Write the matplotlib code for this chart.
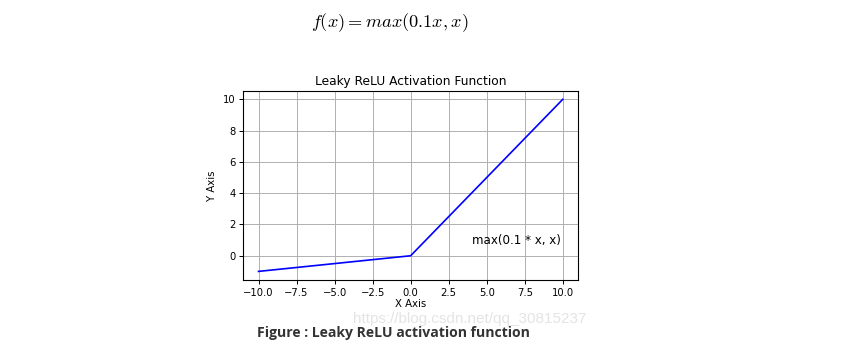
import matplotlib
matplotlib.use('Agg')
import matplotlib.pyplot as plt

# key points of the curve
x_vals = [-10.0, 0.0, 10.0]
y_vals = [-1.0, 0.0, 10.0]

title = 'Leaky ReLU Activation Function'
formula = r'$f(x) = max(0.1x, x)$'
note = 'max(0.1 * x, x)'
caption = 'Figure : Leaky ReLU activation function'
watermark = 'https://blog.csdn.net/qq_30815237'

fig = plt.figure(figsize=(8.42, 3.51), dpi=100)
fig.patch.set_facecolor('white')

ax = fig.add_axes([243.3 / 842, 1 - 280 / 351, (578 - 243.3) / 842, (280 - 90.7) / 351])
ax.plot(x_vals, y_vals, color='blue', lw=1.2)
ax.grid(True, color='#b0b0b0', lw=0.7)
ax.set_title(title, fontsize=8.8, pad=4)
ax.set_xlabel('X Axis', fontsize=7.3, labelpad=1)
ax.set_ylabel('Y Axis', fontsize=7.3, labelpad=4)
ax.tick_params(labelsize=7.2, length=3, width=0.7, pad=2.5)
for s in ax.spines.values():
    s.set_linewidth(0.8)
ax.text(4.0, 0.78, note, fontsize=8.6)

# formula above the chart
plt.rcParams['mathtext.fontset'] = 'cm'
fig.text(390 / 842, 1 - 23 / 351, formula, fontsize=13.2, ha='center', va='center')

# watermark and caption below the chart
fig.text(470 / 842, 1 - 318.5 / 351, watermark, fontsize=11.0, color='#e4e4e4',
         family='Liberation Sans', ha='center', va='center')
fig.text(256.7 / 842, 1 - 333.5 / 351, caption, fontsize=10.1, color='#333333',
         fontweight='bold', family='Open Sans', ha='left', va='center')

fig.savefig('out.png', dpi=100)
